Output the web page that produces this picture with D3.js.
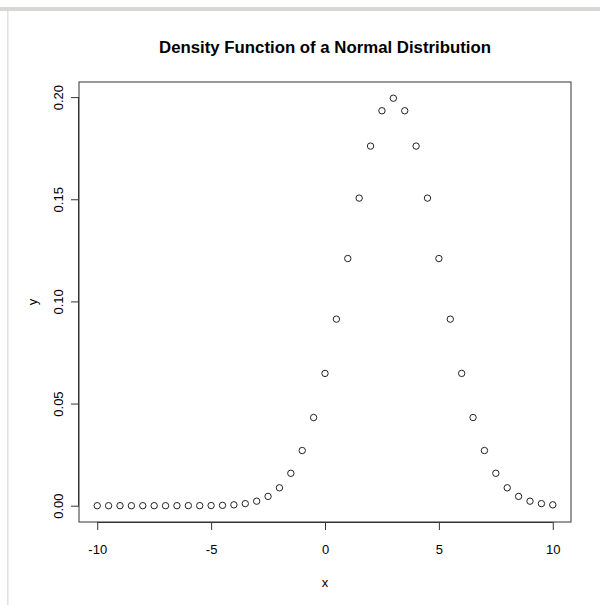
<!DOCTYPE html>
<html>
<head>
<meta charset="utf-8">
<script src="https://cdn.jsdelivr.net/npm/d3@7"></script>
<style>
  html, body { margin: 0; padding: 0; background: #fff; }
  svg { display: block; }
  text { font-family: "Liberation Sans", Arial, Helvetica, sans-serif; fill: #000; }
</style>
</head>
<body>
<svg id="chart" width="600" height="605"></svg>
<script>
// x values and density values (normal distribution, mean 3, sd 2)
const xValues = [-10, -9.5, -9, -8.5, -8, -7.5, -7, -6.5, -6, -5.5, -5, -4.5, -4, -3.5, -3, -2.5, -2, -1.5, -1, -0.5,
                 0, 0.5, 1, 1.5, 2, 2.5, 3, 3.5, 4, 4.5, 5, 5.5, 6, 6.5, 7, 7.5, 8, 8.5, 9, 9.5, 10];
const yValues = [0.0000000007, 0.000000003, 0.000000015, 0.00000007, 0.0000003, 0.0000011, 0.0000038, 0.000012, 0.000039, 0.000024, 0.000067, 0.000176, 0.000436, 0.001016, 0.002216, 0.004547, 0.008764, 0.01587, 0.02700, 0.04316,
                 0.06476, 0.09132, 0.12099, 0.15057, 0.17603, 0.19333, 0.19947, 0.19333, 0.17603, 0.15057, 0.12099, 0.09132, 0.06476, 0.04316, 0.02700, 0.01587, 0.008764, 0.004547, 0.002216, 0.001016, 0.000436];
const xTicks = [-10, -5, 0, 5, 10];
const yTicks = [0.00, 0.05, 0.10, 0.15, 0.20];
const titleText = "Density Function of a Normal Distribution";
const xLabel = "x";
const yLabel = "y";

const svg = d3.select("#chart");

// page frame (gray lines of the screenshot)
svg.append("rect").attr("x", 0).attr("y", 7).attr("width", 600).attr("height", 4).attr("fill", "#d9d7d6");
svg.append("rect").attr("x", 7).attr("y", 11).attr("width", 1.5).attr("height", 594).attr("fill", "#e2e0e0");

const plot = { left: 79, right: 571, top: 82, bottom: 522 };

const x = d3.scaleLinear().domain([-10.8, 10.8]).range([plot.left, plot.right]);
const y = d3.scaleLinear().domain([-0.00798, 0.2074]).range([plot.bottom, plot.top]);

// box
svg.append("rect")
  .attr("x", plot.left).attr("y", plot.top)
  .attr("width", plot.right - plot.left).attr("height", plot.bottom - plot.top)
  .attr("fill", "none").attr("stroke", "#333").attr("stroke-width", 1);

// x axis
const xAxis = d3.axisBottom(x).tickValues(xTicks).tickSize(8).tickPadding(15)
  .tickFormat(d3.format("d"));
const gx = svg.append("g").attr("transform", `translate(0,${plot.bottom})`).call(xAxis);
gx.select(".domain").attr("d", `M${x(-10)},0.5H${x(10)}`).attr("stroke", "#333");
gx.selectAll(".tick line").attr("stroke", "#333");
gx.selectAll(".tick text").attr("font-size", 13).attr("fill", "#000")
  .text(d => d < 0 ? "-" + Math.abs(d) : d);

// y axis
const yAxis = d3.axisLeft(y).tickValues(yTicks).tickSize(8).tickPadding(0)
  .tickFormat(d3.format(".2f"));
const gy = svg.append("g").attr("transform", `translate(${plot.left},0)`).call(yAxis);
gy.select(".domain").attr("d", `M-0.5,${y(0)}V${y(0.2)}`).attr("stroke", "#333");
gy.selectAll(".tick line").attr("stroke", "#333");
gy.selectAll(".tick text")
  .attr("font-size", 13).attr("fill", "#000")
  .attr("x", null).attr("dy", null)
  .attr("text-anchor", "middle")
  .attr("transform", "translate(-16,0) rotate(-90)")
  .attr("y", 0);

// points
svg.append("g").selectAll("circle")
  .data(xValues.map((v, i) => [v, yValues[i]]))
  .join("circle")
  .attr("cx", d => x(d[0]))
  .attr("cy", d => y(d[1]))
  .attr("r", 3.2)
  .attr("fill", "none")
  .attr("stroke", "#222")
  .attr("stroke-width", 1);

// title
svg.append("text")
  .attr("x", (plot.left + plot.right) / 2).attr("y", 53)
  .attr("text-anchor", "middle").attr("font-size", 16.8).attr("font-weight", "bold")
  .text(titleText);

// axis labels
svg.append("text")
  .attr("x", (plot.left + plot.right) / 2).attr("y", 587)
  .attr("text-anchor", "middle").attr("font-size", 13)
  .text(xLabel);
svg.append("text")
  .attr("transform", `translate(37,${(plot.top + plot.bottom) / 2}) rotate(-90)`)
  .attr("text-anchor", "middle").attr("font-size", 13)
  .text(yLabel);
</script>
</body>
</html>
